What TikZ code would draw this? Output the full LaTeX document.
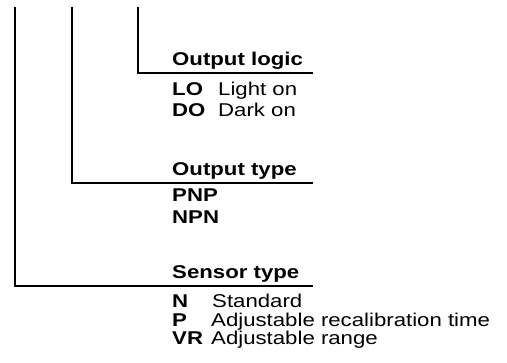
\documentclass[tikz,border=0pt]{standalone}
\usepackage{fontspec}
\setmainfont[FakeStretch=1.2]{Liberation Sans}
\usetikzlibrary{positioning}

\begin{document}
\begin{tikzpicture}[
    x=1pt, y=-1pt,
    head/.style={anchor=base west, inner sep=0pt, font=\fontsize{18.5}{20}\selectfont\bfseries},
    code/.style={anchor=base west, inner sep=0pt, font=\fontsize{18.5}{20}\selectfont\bfseries},
    desc/.style={anchor=base west, inner sep=0pt, font=\fontsize{18.5}{20}\selectfont},
    rule/.style={line width=1.8pt}
  ]
    \useasboundingbox (0,0) rectangle (507,363);
    % branch lines
    \coordinate (T1) at (15, 7);  \coordinate (E1) at (313,286);
    \coordinate (T2) at (72, 7);  \coordinate (E2) at (313,183);
    \coordinate (T3) at (138, 7); \coordinate (E3) at (313,73);
    \foreach \i/\j in {T1/E1, T2/E2, T3/E3}
      \draw[rule] (\i) |- (\j);
    % output logic
    \node[head] (logic) at (172, 66) {Output logic};
    \node[code] (lo) at (172, 96) {LO};
    \node[desc] (lotxt) at (218, 96) {Light on};
    \node[code] (do) at (172,117) {DO};
    \node[desc] (dotxt) at (218,117) {Dark on};
    % output type
    \node[head] (otype) at (172,176) {Output type};
    \node[code] (pnp) at (172,202) {PNP};
    \node[code] (npn) at (172,224) {NPN};
    % sensor type
    \node[head] (stype) at (172,279) {Sensor type};
    \node[code] (n) at (172,308) {N};
    \node[desc] (ntxt) at (212,308) {Standard};
    \node[code] (p) at (172,327) {P};
    \node[desc] (ptxt) at (211,327) {Adjustable recalibration time};
    \node[code] (vr) at (172,345) {VR};
    \node[desc] (vrtxt) at (211,345) {Adjustable range};
\end{tikzpicture}
\end{document}
